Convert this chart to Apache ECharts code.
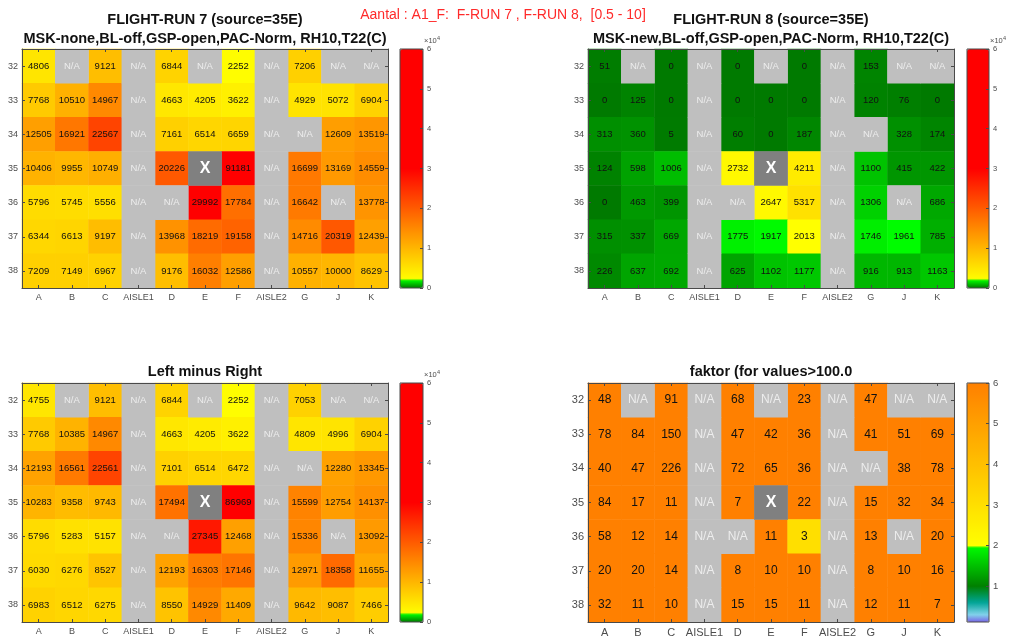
<!DOCTYPE html>
<html><head><meta charset="utf-8">
<script src="https://cdn.jsdelivr.net/npm/echarts@6/dist/echarts.min.js"></script>
<style>html,body{margin:0;padding:0;background:#fff}#c{width:1011px;height:639px}</style>
</head><body><div id="c"></div>
<script>
// ---------- data ----------
const cols = ['A','B','C','AISLE1','D','E','F','AISLE2','G','J','K'];
const rows = ['32','33','34','35','36','37','38'];
const N = null, X = 'X';
const run7 = [
 [4806, N, 9121, N, 6844, N, 2252, N, 7206, N, N],
 [7768, 10510, 14967, N, 4663, 4205, 3622, N, 4929, 5072, 6904],
 [12505, 16921, 22567, N, 7161, 6514, 6659, N, N, 12609, 13519],
 [10406, 9955, 10749, N, 20226, X, 91181, N, 16699, 13169, 14559],
 [5796, 5745, 5556, N, N, 29992, 17784, N, 16642, N, 13778],
 [6344, 6613, 9197, N, 13968, 18219, 19158, N, 14716, 20319, 12439],
 [7209, 7149, 6967, N, 9176, 16032, 12586, N, 10557, 10000, 8629]
];
const run8 = [
 [51, N, 0, N, 0, N, 0, N, 153, N, N],
 [0, 125, 0, N, 0, 0, 0, N, 120, 76, 0],
 [313, 360, 5, N, 60, 0, 187, N, N, 328, 174],
 [124, 598, 1006, N, 2732, X, 4211, N, 1100, 415, 422],
 [0, 463, 399, N, N, 2647, 5317, N, 1306, N, 686],
 [315, 337, 669, N, 1775, 1917, 2013, N, 1746, 1961, 785],
 [226, 637, 692, N, 625, 1102, 1177, N, 916, 913, 1163]
];
const diff = [
 [4755, N, 9121, N, 6844, N, 2252, N, 7053, N, N],
 [7768, 10385, 14967, N, 4663, 4205, 3622, N, 4809, 4996, 6904],
 [12193, 16561, 22561, N, 7101, 6514, 6472, N, N, 12280, 13345],
 [10283, 9358, 9743, N, 17494, X, 86969, N, 15599, 12754, 14137],
 [5796, 5283, 5157, N, N, 27345, 12468, N, 15336, N, 13092],
 [6030, 6276, 8527, N, 12193, 16303, 17146, N, 12971, 18358, 11655],
 [6983, 6512, 6275, N, 8550, 14929, 11409, N, 9642, 9087, 7466]
];
const faktor = [
 [48, N, 91, N, 68, N, 23, N, 47, N, N],
 [78, 84, 150, N, 47, 42, 36, N, 41, 51, 69],
 [40, 47, 226, N, 72, 65, 36, N, N, 38, 78],
 [84, 17, 11, N, 7, X, 22, N, 15, 32, 34],
 [58, 12, 14, N, N, 11, 3, N, 13, N, 20],
 [20, 20, 14, N, 8, 10, 10, N, 8, 10, 16],
 [32, 11, 10, N, 15, 15, 11, N, 12, 11, 7]
];
const countTicks = [0, 1, 2, 3, 4, 5, 6];
const faktorTicks = [1, 2, 3, 4, 5, 6];
const suptitle = 'Aantal : A1_F:  F-RUN 7 , F-RUN 8,  [0.5 - 10]';
const titles = [
 ['FLIGHT-RUN 7 (source=35E)', 'MSK-none,BL-off,GSP-open,PAC-Norm, RH10,T22(C)'],
 ['FLIGHT-RUN 8 (source=35E)', 'MSK-new,BL-off,GSP-open,PAC-Norm, RH10,T22(C)'],
 ['Left minus Right'],
 ['faktor (for values>100.0']
];

// ---------- colormaps ----------
function rgb(c){return 'rgb('+c.join(',')+')';}
function mix(a,b,t){t=Math.max(0,Math.min(1,t));return a.map((v,i)=>Math.round(v+(b[i]-v)*t));}
function countMap(v){
  if (v < 2000) return mix([0,122,0],[0,255,0],v/2000);
  return mix([255,255,0],[255,0,0],(v-2000)/28000);
}
function faktorMap(v){
  const lo=[[0.12,[120,100,230]],[0.3,[130,210,235]],[0.6,[0,165,150]],[1,[0,128,0]],[2,[0,255,0]]];
  if (v < 2) {
    for (let k=0;k<lo.length-1;k++){ if (v<=lo[k+1][0]) return mix(lo[k][1],lo[k+1][1],(v-lo[k][0])/(lo[k+1][0]-lo[k][0])); }
  }
  return mix([255,255,0],[255,128,0],(v-2)/4);
}
function ramp(fn,min,max,n){const a=[];for(let i=0;i<=n;i++)a.push(rgb(fn(min+(max-min)*i/n)));return a;}

const FONT = '"Liberation Sans", Arial, sans-serif';
const AX = '#4a4a4a', TL = '#4d4d4d';

const plots = [
 {data:run7, fn:countMap, vmin:0, vmax:60000, n:6000, gl:22, gt:49, cbl:400, cbw:23, amin:0, amax:6, ticks:countTicks, cf:9.5, tf:9, cbf:7.5, exp:true},
 {data:run8, fn:countMap, vmin:0, vmax:60000, n:6000, gl:588, gt:49, cbl:967, cbw:22, amin:0, amax:6, ticks:countTicks, cf:9.5, tf:9, cbf:7.5, exp:true},
 {data:diff, fn:countMap, vmin:0, vmax:60000, n:6000, gl:22, gt:383, cbl:400, cbw:23, amin:0, amax:6, ticks:countTicks, cf:9.5, tf:9, cbf:7.5, exp:true},
 {data:faktor, fn:faktorMap, vmin:0.12, vmax:6, n:1200, gl:588, gt:383, cbl:967, cbw:22, amin:0.12, amax:6, ticks:faktorTicks, cf:12, tf:11, cbf:9.5, exp:false}
];
const GW = 366, GH = 239;

const option = {
  animation:false, backgroundColor:'#fff',
  textStyle:{fontFamily:FONT},
  grid:[], xAxis:[], yAxis:[], series:[], visualMap:[], graphic:[]
};

plots.forEach((p, i) => {
  const line = {show:true, onZero:false, lineStyle:{color:AX, width:1}};
  const tick = {show:true, inside:true, length:3, alignWithLabel:true, lineStyle:{color:AX, width:1}};
  const gi = option.grid.length;
  option.grid.push({left:p.gl, top:p.gt, width:GW, height:GH});
  const xb = option.xAxis.length;
  option.xAxis.push({gridIndex:gi, type:'category', data:cols, position:'bottom', z:10, axisLine:line, axisTick:tick,
    axisLabel:{interval:0, fontSize:p.tf, color:TL, margin:5, fontFamily:FONT}, splitLine:{show:false}});
  option.xAxis.push({gridIndex:gi, type:'category', data:cols, position:'top', z:10, axisLine:line, axisTick:tick,
    axisLabel:{show:false}, splitLine:{show:false}});
  const yl = option.yAxis.length;
  option.yAxis.push({gridIndex:gi, type:'category', data:rows, inverse:true, position:'left', z:10, axisLine:line, axisTick:tick,
    axisLabel:{interval:0, fontSize:p.tf, color:TL, margin:4, fontFamily:FONT}, splitLine:{show:false}});
  option.yAxis.push({gridIndex:gi, type:'category', data:rows, inverse:true, position:'right', z:10, axisLine:line, axisTick:tick,
    axisLabel:{show:false}, splitLine:{show:false}});

  const vals=[], nas=[], xs=[];
  p.data.forEach((row, r) => row.forEach((v, c) => {
    if (v === null) nas.push([c, r, 0]);
    else if (v === 'X') xs.push([c, r, 0]);
    else vals.push([c, r, v]);
  }));
  const si = option.series.length;
  option.series.push({type:'heatmap', xAxisIndex:xb, yAxisIndex:yl, data:vals, z:2,
    label:{show:true, fontSize:p.cf, color:'#111', fontFamily:FONT, formatter:q=>String(q.value[2])},
    emphasis:{disabled:true}});
  option.series.push({type:'heatmap', xAxisIndex:xb, yAxisIndex:yl, data:nas, z:2, itemStyle:{color:'#bfbfbf'},
    label:{show:true, fontSize:p.cf, color:'#ededed', fontFamily:FONT, formatter:'N/A'}, emphasis:{disabled:true}});
  option.series.push({type:'heatmap', xAxisIndex:xb, yAxisIndex:yl, data:xs, z:2, itemStyle:{color:'#808080'},
    label:{show:true, fontSize:16, fontWeight:'bold', color:'#fff', fontFamily:FONT, formatter:'X'}, emphasis:{disabled:true}});

  option.visualMap.push({type:'continuous', seriesIndex:si, min:p.vmin, max:p.vmax, calculable:false, show:true,
    orient:'vertical', left:p.cbl, top:p.gt, itemWidth:p.cbw, itemHeight:GH, padding:0, z:1, hoverLink:false,
    inRange:{color:ramp(p.fn, p.vmin, p.vmax, p.n)}});

  // colorbar axis frame
  const cg = option.grid.length;
  option.grid.push({left:p.cbl, top:p.gt, width:p.cbw, height:GH, show:true, borderColor:AX, borderWidth:1, backgroundColor:'transparent', z:6});
  option.xAxis.push({gridIndex:cg, type:'value', show:false, min:0, max:1});
  option.yAxis.push({gridIndex:cg, type:'value', min:p.amin, max:p.amax, position:'right', z:10,
    axisLine:{show:false, onZero:false},
    axisTick:{show:true, inside:true, length:3, customValues:p.ticks, lineStyle:{color:AX}},
    axisLabel:{show:true, customValues:p.ticks, fontSize:p.cbf, color:TL, margin:4, fontFamily:FONT},
    splitLine:{show:false}});

  // titles
  const cx = p.gl + GW/2;
  const t = titles[i];
  if (t.length === 2) {
    option.graphic.push({type:'text', x:cx, y:p.gt-29, style:{text:t[0], fontSize:14.5, fontWeight:'bold', fontFamily:FONT, fill:'#111', align:'center', verticalAlign:'middle'}});
    option.graphic.push({type:'text', x:cx, y:p.gt-10, style:{text:t[1], fontSize:14.5, fontWeight:'bold', fontFamily:FONT, fill:'#111', align:'center', verticalAlign:'middle'}});
  } else {
    option.graphic.push({type:'text', x:cx, y:p.gt-11, style:{text:t[0], fontSize:14.5, fontWeight:'bold', fontFamily:FONT, fill:'#111', align:'center', verticalAlign:'middle'}});
  }
  if (p.exp) {
    option.graphic.push({type:'text', x:p.cbl+p.cbw+1, y:p.gt-8, style:{text:'\u00d710', fontSize:7.5, fontFamily:FONT, fill:TL, align:'left', verticalAlign:'middle'}});
    option.graphic.push({type:'text', x:p.cbl+p.cbw+14, y:p.gt-11, style:{text:'4', fontSize:5.5, fontFamily:FONT, fill:TL, align:'left', verticalAlign:'middle'}});
  }
});

option.graphic.push({type:'text', x:503, y:15, style:{text:suptitle, fontSize:14, fontFamily:FONT, fill:'#ff2a2a', align:'center', verticalAlign:'middle'}});

const chart = echarts.init(document.getElementById('c'), null, {renderer:'canvas'});
chart.setOption(option);
</script>
</body></html>
